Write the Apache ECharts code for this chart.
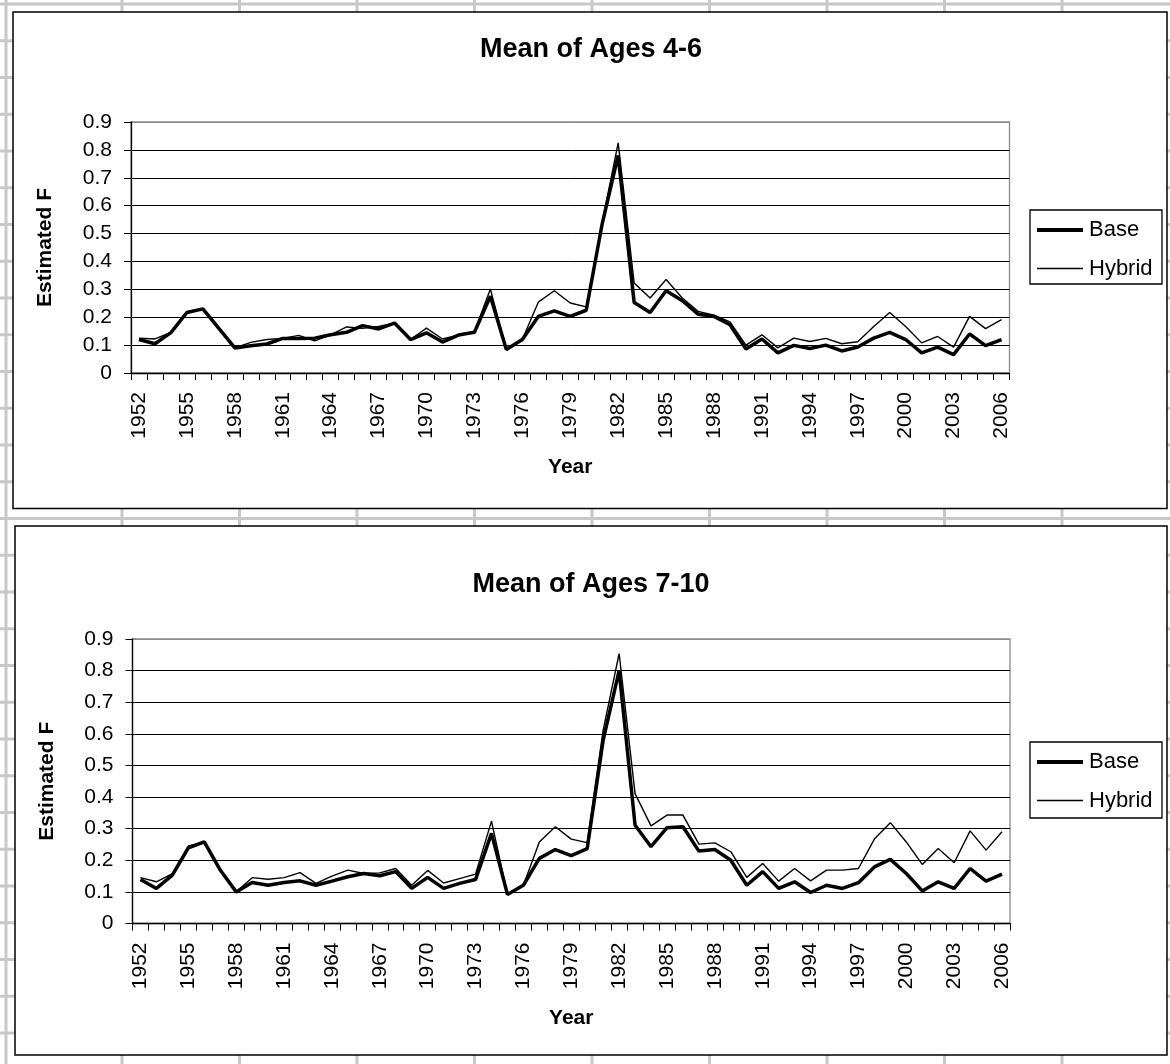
<!DOCTYPE html>
<html><head><meta charset="utf-8">
<script src="https://cdn.jsdelivr.net/npm/echarts@6/dist/echarts.min.js"></script>
<style>html,body{margin:0;padding:0;background:#fff}#c{width:1170px;height:1064px}</style>
</head><body><div id="c"></div>
<script>
// ---------- data ----------
const years = ['1952','1953','1954','1955','1956','1957','1958','1959','1960','1961',
  '1962','1963','1964','1965','1966','1967','1968','1969','1970','1971',
  '1972','1973','1974','1975','1976','1977','1978','1979','1980','1981',
  '1982','1983','1984','1985','1986','1987','1988','1989','1990','1991',
  '1992','1993','1994','1995','1996','1997','1998','1999','2000','2001',
  '2002','2003','2004','2005','2006'];

const base46 = [0.120,0.105,0.145,0.217,0.230,0.160,0.090,0.098,0.104,0.124,
  0.124,0.125,0.137,0.146,0.170,0.158,0.179,0.120,0.144,0.111,
  0.136,0.146,0.275,0.084,0.120,0.203,0.223,0.203,0.225,0.535,
  0.780,0.253,0.217,0.295,0.260,0.211,0.203,0.173,0.086,0.122,
  0.072,0.099,0.088,0.100,0.079,0.093,0.125,0.146,0.120,0.072,
  0.093,0.066,0.140,0.098,0.120];
const hybrid46 = [0.125,0.122,0.146,0.220,0.230,0.160,0.090,0.110,0.120,0.124,
  0.135,0.115,0.137,0.165,0.160,0.167,0.179,0.120,0.161,0.122,
  0.136,0.148,0.301,0.084,0.120,0.254,0.295,0.251,0.237,0.540,
  0.825,0.323,0.269,0.335,0.270,0.221,0.207,0.183,0.100,0.137,
  0.090,0.125,0.113,0.124,0.105,0.112,0.167,0.217,0.167,0.108,
  0.131,0.093,0.203,0.159,0.191];

const base710 = [0.139,0.111,0.153,0.239,0.258,0.169,0.100,0.130,0.121,0.130,
  0.135,0.121,0.134,0.148,0.158,0.151,0.164,0.111,0.146,0.111,
  0.127,0.139,0.285,0.092,0.121,0.206,0.234,0.215,0.237,0.580,
  0.800,0.311,0.243,0.303,0.306,0.229,0.234,0.200,0.121,0.164,
  0.111,0.132,0.098,0.121,0.111,0.129,0.179,0.203,0.158,0.103,
  0.132,0.111,0.174,0.134,0.156];
const hybrid710 = [0.145,0.132,0.158,0.245,0.258,0.169,0.100,0.145,0.140,0.145,
  0.161,0.127,0.150,0.169,0.158,0.160,0.174,0.121,0.168,0.128,
  0.142,0.156,0.324,0.092,0.121,0.258,0.306,0.267,0.256,0.612,
  0.854,0.411,0.309,0.343,0.343,0.251,0.255,0.227,0.146,0.190,
  0.134,0.174,0.135,0.169,0.169,0.174,0.267,0.319,0.258,0.187,
  0.237,0.192,0.293,0.232,0.290];

const yTickLabels = ['0','0.1','0.2','0.3','0.4','0.5','0.6','0.7','0.8','0.9'];
const titles = ['Mean of Ages 4-6', 'Mean of Ages 7-10'];
const seriesNames = ['Base', 'Hybrid'];

// ---------- styling / layout ----------
const FF = '"Liberation Sans", Arial, sans-serif';
const chart = echarts.init(document.getElementById('c'), null, {renderer: 'canvas'});

const panels = [
  {grid: {left: 131, top: 122, width: 878.5, height: 251}, titleTop: 36,
   box: {x: 13, y: 12, w: 1154, h: 496.5}, legendTop: 219, legBox: {y: 210, h: 74}},
  {grid: {left: 132.5, top: 639, width: 877.5, height: 284.5}, titleTop: 571,
   box: {x: 15, y: 526, w: 1152, h: 529}, legendTop: 751, legBox: {y: 742, h: 76}}
];

const splitColors = yTickLabels.map((t, i) => i === yTickLabels.length - 1 ? '#8a8a8a' : '#000');

// spreadsheet background grid
const graphics = [];
const colXs = [6, 122, 239.5, 357, 474.5, 592, 709.5, 827, 944.5, 1062];
colXs.forEach(x => graphics.push({type: 'line', z: 0, silent: true,
  shape: {x1: x, y1: 0, x2: x, y2: 1064}, style: {stroke: '#c8c8c8', lineWidth: 3}}));
for (let y = 4; y < 1064; y += 36.75) {
  graphics.push({type: 'line', z: 0, silent: true,
    shape: {x1: 0, y1: y, x2: 1170, y2: y}, style: {stroke: '#c8c8c8', lineWidth: 3}});
}
panels.forEach(p => {
  graphics.push({type: 'rect', z: 1, silent: true,
    shape: {x: p.box.x, y: p.box.y, width: p.box.w, height: p.box.h},
    style: {fill: '#fff', stroke: '#000', lineWidth: 1.5}});
  graphics.push({type: 'rect', z: 2, silent: true,
    shape: {x: 1030, y: p.legBox.y, width: 132, height: p.legBox.h},
    style: {fill: '#fff', stroke: '#000', lineWidth: 1.3}});
});

const option = {
  animation: false,
  backgroundColor: '#fff',
  textStyle: {fontFamily: FF, color: '#000'},
  graphic: {elements: graphics},
  title: panels.map((p, i) => ({
    text: titles[i], left: 591, top: p.titleTop, textAlign: 'center', padding: 0, z: 5,
    textStyle: {fontSize: 27, fontWeight: 'bold', fontFamily: FF, color: '#000'}
  })),
  grid: panels.map(p => Object.assign({show: true, borderColor: '#8a8a8a', borderWidth: 1.3,
    backgroundColor: 'transparent', z: 3}, p.grid)),
  legend: [].concat(...panels.map(p => seriesNames.map((n, j) => ({
    data: [n], left: 1037, top: p.legendTop + j * 38.5, padding: 0, z: 5,
    icon: 'rect', itemWidth: 46, itemHeight: j === 0 ? 4 : 1.5, selectedMode: false,
    textStyle: {fontSize: 22, fontFamily: FF, color: '#000', padding: [0, 0, 0, 1]}
  })))),
  xAxis: panels.map((p, i) => ({
    type: 'category', gridIndex: i, data: years, boundaryGap: true, z: 4,
    axisLine: {lineStyle: {color: '#000', width: 1.3}},
    axisTick: {show: true, interval: 0, length: 7, lineStyle: {color: '#000', width: 1}},
    axisLabel: {interval: 2, rotate: 90, margin: 19, fontSize: 21, color: '#000', fontFamily: FF},
    splitLine: {show: false},
    name: 'Year', nameLocation: 'middle', nameGap: 84,
    nameTextStyle: {fontSize: 21, fontWeight: 'bold', color: '#000', fontFamily: FF}
  })),
  yAxis: panels.map((p, i) => ({
    type: 'value', gridIndex: i, min: 0, max: 0.9, interval: 0.1, z: 4,
    axisLine: {show: true, lineStyle: {color: '#000', width: 1.3}},
    axisTick: {show: true, length: 7, lineStyle: {color: '#000', width: 1}},
    axisLabel: {margin: 19, fontSize: 21, color: '#000', fontFamily: FF,
      formatter: v => yTickLabels[Math.round(v * 10)]},
    splitLine: {show: true, lineStyle: {color: splitColors, width: 1}},
    name: 'Estimated F', nameLocation: 'middle', nameGap: 75,
    nameTextStyle: {fontSize: 21, fontWeight: 'bold', color: '#000', fontFamily: FF}
  })),
  series: [
    {name: 'Base', type: 'line', xAxisIndex: 0, yAxisIndex: 0, data: base46, z: 6,
     symbol: 'none', lineStyle: {width: 3.5, color: '#000'}, itemStyle: {color: '#000'}},
    {name: 'Hybrid', type: 'line', xAxisIndex: 0, yAxisIndex: 0, data: hybrid46, z: 6,
     symbol: 'none', lineStyle: {width: 1.4, color: '#000'}, itemStyle: {color: '#000'}},
    {name: 'Base', type: 'line', xAxisIndex: 1, yAxisIndex: 1, data: base710, z: 6,
     symbol: 'none', lineStyle: {width: 3.5, color: '#000'}, itemStyle: {color: '#000'}},
    {name: 'Hybrid', type: 'line', xAxisIndex: 1, yAxisIndex: 1, data: hybrid710, z: 6,
     symbol: 'none', lineStyle: {width: 1.4, color: '#000'}, itemStyle: {color: '#000'}}
  ]
};
chart.setOption(option);
</script>
</body></html>
